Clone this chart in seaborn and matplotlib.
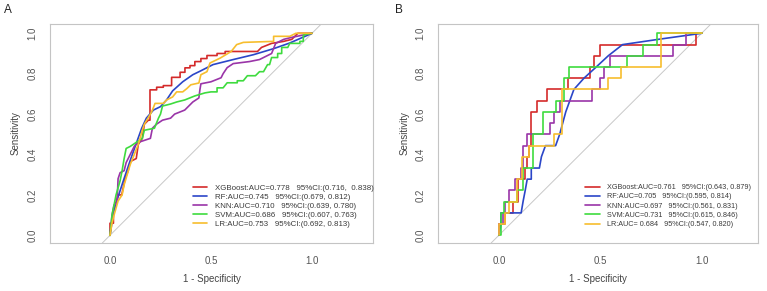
import matplotlib
matplotlib.use("Agg")
import matplotlib.pyplot as plt
import seaborn as sns
import pandas as pd

# ---------------- data ----------------
models = ["XGBoost", "RF", "KNN", "SVM", "LR"]
colors = ["#D42A2A", "#2B46C8", "#9A35A8", "#3EDB3E", "#F7BE2E"]

labels_A = [
    "XGBoost:AUC=0.778   95%CI:(0.716,  0.838)",
    "RF:AUC=0.745   95%CI:(0.679, 0.812)",
    "KNN:AUC=0.710   95%CI:(0.639, 0.780)",
    "SVM:AUC=0.686   95%CI:(0.607, 0.763)",
    "LR:AUC=0.753   95%CI:(0.692, 0.813)",
]
labels_B = [
    "XGBoost:AUC=0.761   95%CI:(0.643, 0.879)",
    "RF:AUC=0.705   95%CI:(0.595, 0.814)",
    "KNN:AUC=0.697   95%CI:(0.561, 0.831)",
    "SVM:AUC=0.731   95%CI:(0.615, 0.846)",
    "LR:AUC= 0.684   95%CI:(0.547, 0.820)",
]

xgb_A = [(0, 0), (0, 0.06), (0.017, 0.06), (0.017, 0.12), (0.04, 0.2), (0.058, 0.2),
         (0.075, 0.28), (0.09, 0.32), (0.10, 0.365), (0.13, 0.38), (0.14, 0.45),
         (0.16, 0.48), (0.17, 0.55), (0.19, 0.57), (0.198, 0.57), (0.198, 0.72),
         (0.231, 0.72), (0.231, 0.733), (0.264, 0.733), (0.264, 0.741), (0.305, 0.741),
         (0.305, 0.782), (0.347, 0.782), (0.347, 0.807), (0.371, 0.807), (0.371, 0.829),
         (0.396, 0.829), (0.396, 0.84), (0.42, 0.84), (0.42, 0.86), (0.45, 0.86),
         (0.45, 0.875), (0.48, 0.875), (0.48, 0.89), (0.53, 0.89), (0.53, 0.90),
         (0.57, 0.90), (0.57, 0.91), (0.73, 0.91), (0.75, 0.93), (0.80, 0.95),
         (0.86, 0.96), (0.90, 0.97), (0.92, 0.99), (0.93, 1.0), (1.0, 1.0)]
rf_A = [(0, 0), (0.017, 0.11), (0.04, 0.19), (0.066, 0.27), (0.10, 0.37), (0.13, 0.455),
        (0.157, 0.53), (0.18, 0.58), (0.215, 0.62), (0.25, 0.637), (0.28, 0.67),
        (0.31, 0.715), (0.36, 0.76), (0.41, 0.795), (0.445, 0.812), (0.51, 0.845),
        (0.61, 0.87), (0.71, 0.894), (0.81, 0.924), (0.89, 0.952), (1.0, 1.0)]
knn_A = [(0, 0), (0.01, 0.10), (0.02, 0.15), (0.035, 0.16), (0.04, 0.28), (0.05, 0.31),
         (0.07, 0.32), (0.08, 0.36), (0.10, 0.40), (0.12, 0.44), (0.14, 0.46),
         (0.17, 0.47), (0.20, 0.48), (0.21, 0.53), (0.23, 0.55), (0.26, 0.57),
         (0.30, 0.58), (0.32, 0.60), (0.37, 0.62), (0.41, 0.66), (0.44, 0.68),
         (0.445, 0.72), (0.45, 0.75), (0.50, 0.76), (0.55, 0.78), (0.56, 0.80),
         (0.58, 0.83), (0.61, 0.85), (0.69, 0.86), (0.74, 0.87), (0.80, 0.90),
         (0.82, 0.95), (0.86, 0.97), (0.90, 0.98), (0.95, 0.99), (1.0, 1.0)]
svm_A = [(0, 0), (0.01, 0.10), (0.03, 0.20), (0.05, 0.27), (0.06, 0.32), (0.07, 0.38),
         (0.08, 0.43), (0.10, 0.44), (0.13, 0.46), (0.16, 0.48), (0.17, 0.52),
         (0.22, 0.53), (0.24, 0.58), (0.25, 0.60), (0.26, 0.64), (0.30, 0.65),
         (0.33, 0.66), (0.37, 0.67), (0.42, 0.69), (0.47, 0.705), (0.50, 0.71),
         (0.53, 0.71), (0.53, 0.73), (0.56, 0.73), (0.58, 0.755), (0.63, 0.755),
         (0.63, 0.765), (0.66, 0.765), (0.68, 0.79), (0.72, 0.79), (0.74, 0.81),
         (0.76, 0.81), (0.78, 0.845), (0.79, 0.845), (0.80, 0.88), (0.83, 0.88),
         (0.83, 0.90), (0.85, 0.90), (0.85, 0.93), (0.88, 0.93), (0.89, 0.95),
         (0.94, 0.95), (0.94, 0.96), (0.957, 0.96), (0.957, 0.99), (0.97, 0.995), (1.0, 1.0)]
lr_A = [(0, 0), (0.01, 0.06), (0.02, 0.10), (0.04, 0.17), (0.06, 0.20), (0.07, 0.25),
        (0.10, 0.35), (0.14, 0.45), (0.16, 0.52), (0.17, 0.55), (0.20, 0.60),
        (0.21, 0.62), (0.223, 0.653), (0.264, 0.653), (0.28, 0.67), (0.31, 0.685),
        (0.33, 0.71), (0.36, 0.71), (0.38, 0.726), (0.40, 0.745), (0.44, 0.754),
        (0.45, 0.795), (0.48, 0.81), (0.495, 0.853), (0.545, 0.877), (0.60, 0.91),
        (0.627, 0.944), (0.66, 0.955), (0.81, 0.96), (0.81, 0.985), (0.89, 0.985),
        (0.92, 1.0), (1.0, 1.0)]

xgb_B = [(0, 0), (0, 0.056), (0.03, 0.056), (0.03, 0.111), (0.07, 0.111), (0.07, 0.167),
         (0.095, 0.167), (0.095, 0.278), (0.13, 0.278), (0.13, 0.333), (0.14, 0.333),
         (0.14, 0.389), (0.15, 0.389), (0.15, 0.444), (0.16, 0.444), (0.16, 0.611),
         (0.19, 0.611), (0.19, 0.667), (0.237, 0.667), (0.237, 0.722), (0.34, 0.722),
         (0.34, 0.778), (0.448, 0.778), (0.448, 0.833), (0.468, 0.833), (0.468, 0.889),
         (0.497, 0.889), (0.497, 0.944), (0.97, 0.944), (0.97, 1.0), (1.0, 1.0)]
rf_B = [(0, 0), (0.01, 0.05), (0.01, 0.111), (0.11, 0.111), (0.12, 0.17), (0.13, 0.222),
        (0.14, 0.278), (0.16, 0.278), (0.16, 0.333), (0.20, 0.333), (0.21, 0.389),
        (0.23, 0.444), (0.28, 0.444), (0.30, 0.50), (0.33, 0.611), (0.37, 0.722),
        (0.42, 0.778), (0.48, 0.833), (0.54, 0.889), (0.61, 0.944), (0.80, 0.972), (1.0, 1.0)]
knn_B = [(0, 0), (0, 0.056), (0.02, 0.056), (0.02, 0.111), (0.03, 0.111), (0.03, 0.167),
         (0.05, 0.167), (0.05, 0.222), (0.08, 0.222), (0.08, 0.278), (0.11, 0.278),
         (0.11, 0.333), (0.12, 0.333), (0.12, 0.444), (0.14, 0.444), (0.14, 0.50),
         (0.25, 0.50), (0.25, 0.556), (0.27, 0.556), (0.27, 0.611), (0.30, 0.611),
         (0.30, 0.667), (0.46, 0.667), (0.46, 0.722), (0.497, 0.722), (0.497, 0.778),
         (0.52, 0.778), (0.52, 0.833), (0.55, 0.833), (0.55, 0.889), (0.857, 0.889),
         (0.857, 0.944), (0.924, 0.944), (0.924, 1.0), (1.0, 1.0)]
svm_B = [(0, 0), (0.01, 0), (0.01, 0.111), (0.025, 0.111), (0.025, 0.167), (0.09, 0.167),
         (0.09, 0.222), (0.12, 0.222), (0.12, 0.333), (0.17, 0.333), (0.17, 0.50),
         (0.22, 0.50), (0.22, 0.611), (0.28, 0.611), (0.28, 0.667), (0.32, 0.667),
         (0.32, 0.778), (0.345, 0.778), (0.345, 0.833), (0.63, 0.833), (0.63, 0.889),
         (0.71, 0.889), (0.71, 0.944), (0.78, 0.944), (0.78, 1.0), (1.0, 1.0)]
lr_B = [(0, 0), (0, 0.056), (0.03, 0.056), (0.03, 0.111), (0.05, 0.111), (0.05, 0.167),
        (0.09, 0.167), (0.09, 0.278), (0.115, 0.278), (0.115, 0.389), (0.15, 0.389),
        (0.15, 0.444), (0.27, 0.444), (0.27, 0.50), (0.31, 0.50), (0.31, 0.722),
        (0.54, 0.722), (0.54, 0.778), (0.60, 0.778), (0.60, 0.833), (0.80, 0.833),
        (0.80, 1.0), (1.0, 1.0)]

curves_A = [xgb_A, rf_A, knn_A, svm_A, lr_A]
curves_B = [xgb_B, rf_B, knn_B, svm_B, lr_B]

# ---------------- drawing ----------------
sns.set_style("white")
plt.rcParams["font.family"] = ["Liberation Sans", "DejaVu Sans"]

W, H = 767, 291
fig = plt.figure(figsize=(W / 100, H / 100), dpi=100)

FRAME = "#C4C4C4"
TXT = "#555555"


def to_df(curves, labels):
    rows = []
    for pts, lab in zip(curves, labels):
        for i, (fx, ty) in enumerate(pts):
            rows.append({"fpr": fx, "tpr": ty, "model": lab, "order": i})
    return pd.DataFrame(rows)


def panel(rect, curves, labels, xlim, leg_anchor, leg_fs, leg_hl, leg_pad, leg_sp,
          tag, tag_xy):
    ax = fig.add_axes(rect)
    df = to_df(curves, labels)
    ax.axline((0, 0), (1, 1), color="#C8C8C8", lw=0.7, zorder=1)
    sns.lineplot(data=df, x="fpr", y="tpr", hue="model", hue_order=labels,
                 palette=colors, sort=False, estimator=None, lw=1.2, ax=ax,
                 legend=True, zorder=3)
    ax.set_xlim(*xlim)
    ax.set_ylim(-0.038, 1.046)
    ax.set_xticks([0, 0.5, 1.0])
    ax.set_xticklabels(["0.0", "0.5", "1.0"])
    yt = [0, 0.2, 0.4, 0.6, 0.8, 1.0]
    ax.set_yticks(yt)
    ax.set_yticklabels([f"{v:.1f}" for v in yt], rotation=90, va="center")
    ax.tick_params(axis="both", direction="out", length=5, width=0.6, color="#9A9A9A",
                   labelsize=7, labelcolor=TXT, pad=4)
    ax.tick_params(axis="y", pad=4)
    for s in ax.spines.values():
        s.set_color(FRAME)
        s.set_linewidth(0.8)
    ax.set_xlabel("1 - Specificity", fontsize=7, color="#444444")
    ax.set_ylabel("Sensitivity", fontsize=7, color="#444444")
    ax.xaxis.set_label_coords(0.5, -0.14)
    ax.yaxis.set_label_coords(-0.09, 0.5)
    h, l = ax.get_legend_handles_labels()
    leg = ax.legend(h, l, loc="upper left", bbox_to_anchor=leg_anchor,
                    bbox_transform=fig.transFigure, frameon=False, fontsize=leg_fs,
                    handlelength=leg_hl, handletextpad=leg_pad, labelspacing=leg_sp,
                    borderpad=0, borderaxespad=0)
    for t in leg.get_texts():
        t.set_color("#3A3A3A")
    for ln in leg.get_lines():
        ln.set_linewidth(1.2)
    fig.text(tag_xy[0] / W, 1 - tag_xy[1] / H, tag, fontsize=8.5, ha="center",
             va="center", color="#222222")
    return ax


panel([50 / W, 48 / H, 323 / W, 219 / H], curves_A, labels_A, (-0.297, 1.302),
      (193 / W, 1 - 184 / H), 5.7, 1.77, 1.0, 0.2, "A", (8, 10))
panel([438 / W, 48 / H, 320 / W, 219 / H], curves_B, labels_B, (-0.30, 1.278),
      (585 / W, 1 - 184 / H), 5.25, 2.05, 0.9, 0.3, "B", (399, 10))

fig.savefig("out.png", dpi=100)
